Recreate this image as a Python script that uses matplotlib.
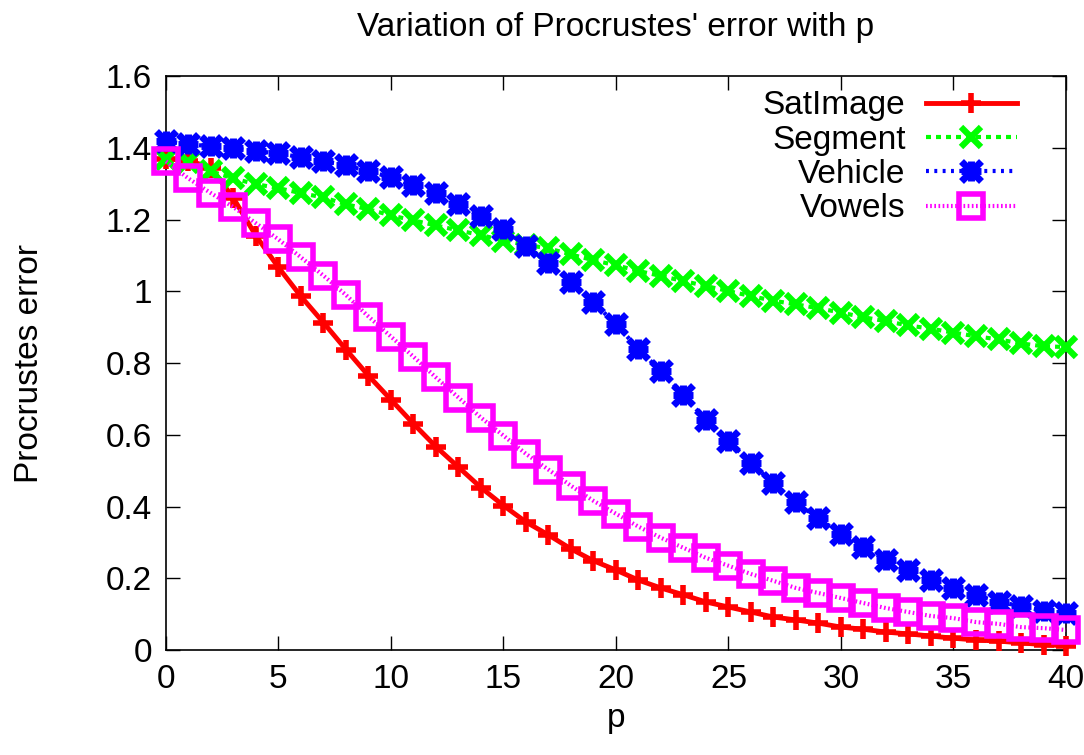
import matplotlib
matplotlib.use("Agg")
import matplotlib.pyplot as plt

plt.rcParams["font.family"] = ["Liberation Sans", "DejaVu Sans"]

p = list(range(41))

satimage = [1.37, 1.365, 1.345, 1.26, 1.155, 1.067, 0.986, 0.913, 0.838, 0.765,
            0.698, 0.631, 0.567, 0.51, 0.453, 0.403, 0.357, 0.321, 0.282, 0.249,
            0.223, 0.195, 0.173, 0.154, 0.134, 0.12, 0.106, 0.092, 0.084, 0.075,
            0.064, 0.058, 0.05, 0.045, 0.039, 0.033, 0.028, 0.025, 0.02, 0.015, 0.012]

segment = [1.37, 1.36, 1.335, 1.315, 1.299, 1.288, 1.274, 1.262, 1.243, 1.229,
           1.212, 1.198, 1.184, 1.17, 1.157, 1.142, 1.13, 1.12, 1.103, 1.087,
           1.073, 1.057, 1.043, 1.029, 1.015, 1.001, 0.987, 0.974, 0.964, 0.953,
           0.941, 0.928, 0.917, 0.905, 0.896, 0.885, 0.875, 0.866, 0.855, 0.847, 0.845]

vehicle = [1.419, 1.41, 1.405, 1.399, 1.391, 1.385, 1.374, 1.363, 1.352, 1.335,
           1.318, 1.296, 1.274, 1.243, 1.21, 1.173, 1.128, 1.08, 1.026, 0.97,
           0.908, 0.84, 0.777, 0.71, 0.642, 0.582, 0.521, 0.465, 0.412, 0.367,
           0.324, 0.286, 0.252, 0.223, 0.196, 0.172, 0.153, 0.135, 0.122, 0.11, 0.102]

vowels = [1.363, 1.315, 1.274, 1.235, 1.19, 1.145, 1.095, 1.044, 0.99, 0.93,
          0.874, 0.818, 0.76, 0.704, 0.648, 0.598, 0.547, 0.503, 0.458, 0.416,
          0.38, 0.344, 0.313, 0.285, 0.257, 0.235, 0.212, 0.193, 0.173, 0.159,
          0.145, 0.131, 0.117, 0.106, 0.095, 0.089, 0.078, 0.073, 0.064, 0.061, 0.056]

x_ticks = [0, 5, 10, 15, 20, 25, 30, 35, 40]
y_ticks = [0, 0.2, 0.4, 0.6, 0.8, 1, 1.2, 1.4, 1.6]
y_labels = ["0", "0.2", "0.4", "0.6", "0.8", "1", "1.2", "1.4", "1.6"]

fig = plt.figure(figsize=(10.84, 7.55), dpi=100)
ax = fig.add_axes([0.1531, 0.139, 0.8303, 0.760])

l1, = ax.plot(p, satimage, color="#ff0000", lw=3.5, ls="-", marker="+", ms=15, mew=4,
              clip_on=False, zorder=3)
l2, = ax.plot(p, segment, color="#00ff00", lw=3, ls=(0, (1.2, 1.2)), marker="x", ms=14, mew=4.5,
              clip_on=False, zorder=3)
# gnuplot point type 3: a plus and a cross drawn on top of each other
l3a, = ax.plot(p, vehicle, color="#0000ff", lw=3, ls=(0, (0.7, 1.3)), marker="x", ms=15, mew=5,
               clip_on=False, zorder=3)
l3b, = ax.plot(p, vehicle, color="#0000ff", ls="none", marker="+", ms=15, mew=5,
               clip_on=False, zorder=3)
l4, = ax.plot(p, vowels, color="#ff00ff", lw=3, ls=(0, (0.4, 0.6)), marker="s", ms=17, mew=4,
              mfc="none", clip_on=False, zorder=4)

ax.set_xlim(0, 40)
ax.set_ylim(0, 1.6)
ax.set_xticks(x_ticks)
ax.set_yticks(y_ticks)
ax.set_yticklabels(y_labels)
ax.tick_params(direction="in", length=10, width=1, labelsize=24,
               top=True, right=True, pad=10)
for s in ax.spines.values():
    s.set_linewidth(1.2)

ax.set_title("Variation of Procrustes' error with p", fontsize=24, pad=29)
ax.set_xlabel("p", fontsize=24, labelpad=6)
ax.set_ylabel("Procrustes error", fontsize=24, labelpad=44)

ax.legend([l1, l2, (l3a, l3b), l4], ["SatImage", "Segment", "Vehicle", "Vowels"],
          loc="upper right", frameon=False, markerfirst=False, fontsize=24,
          handlelength=2.75, handletextpad=0.6, labelspacing=0.1,
          borderaxespad=0.2, bbox_to_anchor=(0.968, 1.0105))

fig.savefig("out.png", dpi=100)
